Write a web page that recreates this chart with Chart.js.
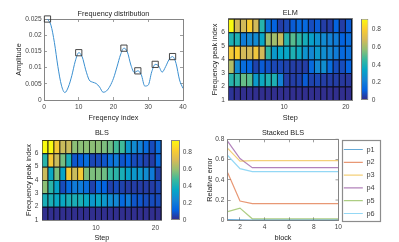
<!DOCTYPE html>
<html><head><meta charset="utf-8">
<script src="https://cdn.jsdelivr.net/npm/chart.js@4.4.1/dist/chart.umd.min.js"></script>
<style>
html,body{margin:0;padding:0;background:#fff;}
body{width:399px;height:242px;position:relative;overflow:hidden;}
canvas{position:absolute;display:block;}
</style></head><body>
<canvas id="cFreq" width="200" height="126" style="left:0px;top:0px;width:200px;height:126px"></canvas>
<canvas id="cElm" width="158" height="126" style="left:200px;top:0px;width:158px;height:126px"></canvas>
<canvas id="cElmBar" width="44" height="126" style="left:355px;top:0px;width:44px;height:126px"></canvas>
<canvas id="cBls" width="168" height="121" style="left:0px;top:121px;width:168px;height:121px"></canvas>
<canvas id="cBlsBar" width="40" height="121" style="left:165px;top:121px;width:40px;height:121px"></canvas>
<canvas id="cStk" width="199" height="121" style="left:200px;top:121px;width:199px;height:121px"></canvas>
<script>
// ---------------- data ----------------
const freqIndex = [1,2,3,4,5,6,7,8,9,10,11,12,13,14,15,16,17,18,19,20,21,22,23,24,25,26,27,28,29,30,31,32,33,34,35,36,37,38,39,40];
const freqAmp = [0.0250,0.0231,0.0177,0.0103,0.0046,0.0023,0.0040,0.0075,0.0120,0.0146,0.0133,0.0093,0.0062,0.0055,0.0051,0.0040,0.0024,0.0028,0.0043,0.0067,0.0102,0.0139,0.0160,0.0148,0.0108,0.0085,0.0090,0.0078,0.0043,0.0046,0.0087,0.0110,0.0105,0.0086,0.0103,0.0125,0.0134,0.0113,0.0062,0.0036];
const peakIndex = [1,10,23,27,32,37];
const peakAmp = [0.0250,0.0146,0.0160,0.0090,0.0110,0.0134];
const freqXTicks = [0,10,20,30,40];
const freqYTicks = [0,0.005,0.01,0.015,0.02,0.025];

const steps = [1,2,3,4,5,6,7,8,9,10,11,12,13,14,15,16,17,18,19,20];
const peakRows = [1,2,3,4,5,6];
const elmValues = [
  [0.02,0.01,0.01,0.01,0.01,0.01,0.01,0.01,0.01,0.01,0.01,0.01,0.01,0.01,0.01,0.01,0.01,0.01,0.01,0.01],
  [0.42,0.44,0.52,0.50,0.30,0.36,0.40,0.40,0.22,0.04,0.04,0.05,0.10,0.05,0.06,0.04,0.04,0.04,0.03,0.03],
  [0.62,0.25,0.15,0.13,0.05,0.10,0.08,0.06,0.06,0.05,0.04,0.04,0.04,0.14,0.24,0.26,0.15,0.07,0.07,0.12],
  [0.78,0.80,0.68,0.68,0.76,0.68,0.44,0.30,0.34,0.34,0.40,0.36,0.28,0.24,0.30,0.26,0.24,0.20,0.14,0.16],
  [0.40,0.40,0.20,0.24,0.25,0.34,0.60,0.60,0.66,0.42,0.50,0.44,0.38,0.32,0.28,0.25,0.22,0.20,0.12,0.15],
  [0.92,0.68,0.68,0.80,0.68,0.42,0.16,0.12,0.04,0.06,0.10,0.14,0.14,0.07,0.10,0.04,0.04,0.12,0.04,0.10]
];
const blsValues = [
  [0.01,0.01,0.01,0.01,0.01,0.01,0.01,0.01,0.01,0.01,0.01,0.01,0.01,0.01,0.01,0.01,0.01,0.01,0.01,0.01],
  [0.40,0.40,0.36,0.36,0.40,0.40,0.40,0.36,0.30,0.36,0.30,0.26,0.24,0.14,0.20,0.09,0.09,0.07,0.07,0.07],
  [0.58,0.44,0.34,0.07,0.14,0.20,0.20,0.16,0.05,0.14,0.12,0.05,0.07,0.05,0.04,0.04,0.04,0.04,0.04,0.06],
  [0.68,0.36,0.56,0.34,0.80,0.68,0.80,0.56,0.56,0.56,0.54,0.46,0.44,0.40,0.34,0.30,0.30,0.26,0.20,0.05],
  [0.44,0.80,0.68,0.55,0.40,0.09,0.11,0.16,0.06,0.07,0.09,0.16,0.20,0.09,0.12,0.07,0.07,0.05,0.04,0.14],
  [0.94,0.94,0.80,0.68,0.68,0.58,0.58,0.58,0.58,0.58,0.56,0.54,0.48,0.48,0.30,0.26,0.22,0.15,0.07,0.16]
];
const elmMax = 0.92;
const blsMax = 0.94;
const heatXTicks = [10,20];
const heatYTicks = [1,2,3,4,5,6];
const colorbarTicks = [0,0.2,0.4,0.6,0.8];

const blocks = [1,2,3,4,5,6,7,8,9,10];
const stackedNames = ['p1','p2','p3','p4','p5','p6'];
const p1 = [0.008,0.004,0.002,0.002,0.002,0.002,0.002,0.002,0.002,0.002];
const p2 = [0.47,0.19,0.165,0.165,0.165,0.165,0.165,0.165,0.165,0.165];
const p3 = [0.71,0.585,0.59,0.59,0.59,0.59,0.59,0.59,0.59,0.59];
const p4 = [0.78,0.61,0.52,0.52,0.52,0.52,0.52,0.52,0.52,0.52];
const p5 = [0.085,0.12,0.015,0.015,0.015,0.015,0.015,0.015,0.015,0.015];
const p6 = [0.64,0.51,0.48,0.48,0.48,0.48,0.48,0.48,0.48,0.48];
const stackXTicks = [2,4,6,8,10];
const stackYTicks = [0,0.2,0.4,0.6,0.8];

// ---------------- style ----------------
const FAM = "'Liberation Sans', Arial, Helvetica, sans-serif";
Chart.defaults.font.family = FAM;
const TF = {family:FAM, size:6.6};
const LF = {family:FAM, size:7.3, lineHeight:1.2};
const AX = '#858585';
const TXT = '#444444';
const TTL = '#1e1e1e';
const PARULA = ['#352A87','#0363E1','#1485D4','#06A7C6','#38B99E','#92BF73','#D9BA56','#FCCE2E','#F9FB0E'];
const PRGB = PARULA.map(h => [parseInt(h.slice(1,3),16), parseInt(h.slice(3,5),16), parseInt(h.slice(5,7),16)]);
function parulaRGB(t){
  t = Math.max(0, Math.min(1, t));
  const s = t * (PRGB.length - 1);
  const i = Math.min(Math.floor(s), PRGB.length - 2);
  const f = s - i, a = PRGB[i], b = PRGB[i+1];
  return [0,1,2].map(k => a[k] + (b[k]-a[k])*f);
}
function parula(t){ const c = parulaRGB(t); return `rgb(${c.map(Math.round).join(',')})`; }
function parulaEdge(t){ const c = parulaRGB(t); return `rgb(${c.map(v=>Math.round(v*0.25)).join(',')})`; }

function fit(n){ return s => { if (s.isHorizontal()) s.height = n; else s.width = n; }; }
function fixTicks(v){ return s => { s.ticks = v.map(x => ({value:x})); }; }
function fmtNum(v){ return String(+(+v).toFixed(4)); }

function axis(o){
  const a = {
    type:'linear', position:o.position, min:o.min, max:o.max, offset:false,
    z: o.z || 0,
    afterBuildTicks: fixTicks(o.ticks), afterFit: fit(o.size),
    ticks:{display:o.labels !== false, font:TF, color:TXT, padding:o.pad || 0, maxRotation:0, autoSkip:false, callback:o.fmt || fmtNum},
    grid:{display:!!o.marks, drawOnChartArea:false, drawTicks:!!o.marks, tickLength:o.marks ? -3 : 0, color:AX, lineWidth:0.8},
    border:{display:true, color:AX, width:1},
    title: o.title ? {display:true, text:o.title, font:LF, color:TTL, padding:o.titlePad} : {display:false}
  };
  if (o.stacked !== undefined) a.stacked = o.stacked;
  return a;
}
const base = {responsive:false, animation:false, events:[], devicePixelRatio:1, layout:{padding:0}};

// ---------------- frequency distribution ----------------
new Chart(document.getElementById('cFreq'), {
  type:'line',
  data:{datasets:[
    {data: freqIndex.map((x,i)=>({x, y:freqAmp[i]})), borderColor:'#3a8fd0', borderWidth:1, pointRadius:0, cubicInterpolationMode:'monotone', fill:false, order:2},
    {data: peakIndex.map((x,i)=>({x, y:peakAmp[i]})), showLine:false, pointStyle:'rect', pointRadius:4.4, borderColor:'#333', borderWidth:0.9, backgroundColor:'rgba(0,0,0,0)', clip:false, order:1}
  ]},
  options:Object.assign({}, base, {
    plugins:{legend:{display:false}, tooltip:{enabled:false}},
    scales:{
      x: axis({position:'bottom', min:0, max:40, ticks:freqXTicks, size:26, pad:6.7, marks:true, title:'Freqency index', titlePad:{top:0,bottom:3.9}}),
      y: axis({position:'left', min:0, max:0.025, ticks:freqYTicks, size:44, pad:5.3, marks:true, title:'Amplitude', titlePad:{top:14.6,bottom:0}}),
      x2: axis({position:'top', min:0, max:40, ticks:freqXTicks, size:19, labels:false, marks:true, title:'Frequency distribution', titlePad:{top:9.6,bottom:0}}),
      y2: axis({position:'right', min:0, max:0.025, ticks:freqYTicks, size:17, labels:false, marks:true})
    }
  })
});

// ---------------- heatmaps ----------------
const darkUnderlay = {
  id:'darkUnderlay',
  beforeDatasetsDraw(chart){
    const a = chart.chartArea, c = chart.ctx;
    c.save(); c.fillStyle = '#111122'; c.fillRect(a.left, a.top, a.right - a.left, a.bottom - a.top); c.restore();
  }
};
function heatChart(id, values, cmax, g){
  const datasets = values.map((row, r) => ({
    data: row.map((v, c) => ({x: steps[c] + 0.5, y: [peakRows[r], peakRows[r] + 1], v})),
    backgroundColor: ctx => ctx.raw ? parula(ctx.raw.v / cmax) : '#000',
    borderColor: ctx => ctx.raw ? parulaEdge(ctx.raw.v / cmax) : '#000',
    borderWidth: {top:1, right:1, bottom:0, left:0},
    borderSkipped: false, barPercentage:1, categoryPercentage:1, stack:'cells', inflateAmount:0
  }));
  new Chart(document.getElementById(id), {
    type:'bar', data:{datasets},
    plugins:[darkUnderlay],
    options:Object.assign({}, base, {
      plugins:{legend:{display:false}, tooltip:{enabled:false}},
      scales:{
        x: axis({position:'bottom', min:1, max:21, ticks:heatXTicks, size:g.xh, pad:g.xpad, z:1, title:'Step', titlePad:{top:0,bottom:g.xtp}}),
        y: axis({position:'left', min:1, max:7, ticks:heatYTicks, size:g.yw, pad:g.ypad, z:1, stacked:false, title:'Frequency peak index', titlePad:{top:g.ytp,bottom:0}}),
        x2: axis({position:'top', min:1, max:21, ticks:heatXTicks, size:g.th, labels:false, z:1, title:g.title, titlePad:{top:g.ttp,bottom:0}}),
        y2: axis({position:'right', min:1, max:7, ticks:heatYTicks, size:g.rw, labels:false, z:1})
      }
    })
  });
}
function colorbarChart(id, cmax, g){
  new Chart(document.getElementById(id), {
    type:'bar',
    data:{labels:['c'], datasets:[{
      data:[[0, cmax]],
      backgroundColor: ctx => {
        const ch = ctx.chart;
        if (!ch.chartArea) return PARULA[0];
        const ys = ch.scales.y;
        const gr = ch.ctx.createLinearGradient(0, ys.getPixelForValue(0), 0, ys.getPixelForValue(cmax));
        PARULA.forEach((c, i) => gr.addColorStop(i / (PARULA.length - 1), c));
        return gr;
      },
      borderColor: AX, borderWidth:1, borderSkipped:false, barPercentage:1, categoryPercentage:1, inflateAmount:0
    }]},
    options:Object.assign({}, base, {
      layout:{padding:{left:g.left, top:g.top, bottom:g.bottom, right:0}},
      plugins:{legend:{display:false}, tooltip:{enabled:false}},
      scales:{
        x:{display:false},
        y:{position:'right', min:0, max:cmax, afterBuildTicks:fixTicks(colorbarTicks), afterFit:fit(g.aw),
           ticks:{font:TF, color:TXT, padding:g.pad, callback:v => v === 0 ? '0' : (+v).toFixed(1)},
           grid:{display:false, drawTicks:false}, border:{display:false}}
      }
    })
  });
}
heatChart('cElm', elmValues, elmMax, {title:'ELM', xh:26, xpad:3, xtp:3.9, yw:28.5, ypad:3.5, ytp:10.6, th:18.8, ttp:8.9, rw:6});
colorbarChart('cElmBar', elmMax, {left:6, top:18.8, bottom:26, aw:30.5, pad:3.3});
heatChart('cBls', blsValues, blsMax, {title:'BLS', xh:22, xpad:4.3, xtp:0, yw:42.3, ypad:4, ytp:24.5, th:19, ttp:7.9, rw:6.5});
colorbarChart('cBlsBar', blsMax, {left:6, top:19, bottom:22, aw:25, pad:2.7});

// ---------------- stacked BLS ----------------
const stackColors = ['rgba(0,114,189,0.6)','rgba(217,83,25,0.6)','rgba(237,177,32,0.6)','rgba(126,47,142,0.6)','rgba(119,172,48,0.6)','rgba(77,190,238,0.6)'];
const stackedSeries = [p1,p2,p3,p4,p5,p6];
const boxAndLegendFrame = {
  id:'boxAndLegendFrame',
  afterDraw(chart){
    const c = chart.ctx, a = chart.chartArea;
    c.save();
    c.strokeStyle = AX; c.lineWidth = 1;
    const xr = Math.round(a.right) + 0.5;
    c.beginPath(); c.moveTo(xr, a.top); c.lineTo(xr, a.bottom); c.stroke();
    c.lineWidth = 0.8;
    chart.scales.y.ticks.forEach(t => {
      const y = chart.scales.y.getPixelForValue(t.value);
      c.beginPath(); c.moveTo(xr, y); c.lineTo(xr - 3, y); c.stroke();
    });
    const L = chart.legend;
    if (L && L.legendHitBoxes && L.legendHitBoxes.length) {
      const hb = L.legendHitBoxes, f = hb[0], l = hb[hb.length - 1];
      c.strokeStyle = '#8c8c8c'; c.lineWidth = 1.2;
      const x0 = Math.round(f.left - 1.5) + 0.5;
      const y0 = Math.round(f.top - 5.5) + 0.5;
      const y1 = Math.round(l.top + l.height + 4) + 0.5;
      c.strokeRect(x0, y0, 38, y1 - y0);
    }
    c.restore();
  }
};
new Chart(document.getElementById('cStk'), {
  type:'line',
  data:{datasets: stackedSeries.map((s, i) => ({
    label: stackedNames[i], data: blocks.map((b, j) => ({x:b, y:s[j]})),
    borderColor: stackColors[i], backgroundColor: stackColors[i], borderWidth:1.2, pointRadius:0, tension:0, fill:false
  }))},
  plugins:[boxAndLegendFrame],
  options:Object.assign({}, base, {
    layout:{padding:{right:14.6}},
    plugins:{
      tooltip:{enabled:false},
      legend:{display:true, position:'right', fullSize:true, align:'center',
        labels:{font:{family:FAM, size:7.3}, color:TXT, usePointStyle:true, pointStyle:'line', pointStyleWidth:19, padding:5.5}}
    },
    scales:{
      x: axis({position:'bottom', min:1, max:10, ticks:stackXTicks, size:21.7, pad:6.4, marks:true, title:'block', titlePad:{top:0,bottom:0}}),
      y: axis({position:'left', min:0, max:0.8, ticks:stackYTicks, size:27.7, pad:6.4, marks:true, title:'Relative error', titlePad:{top:5.6,bottom:0}, fmt:v => v === 0 ? '0' : (+v).toFixed(1)}),
      x2: axis({position:'top', min:1, max:10, ticks:stackXTicks, size:18.3, labels:false, marks:true, title:'Stacked BLS', titlePad:{top:7.9,bottom:0}})
    }
  })
});
</script>
</body></html>
